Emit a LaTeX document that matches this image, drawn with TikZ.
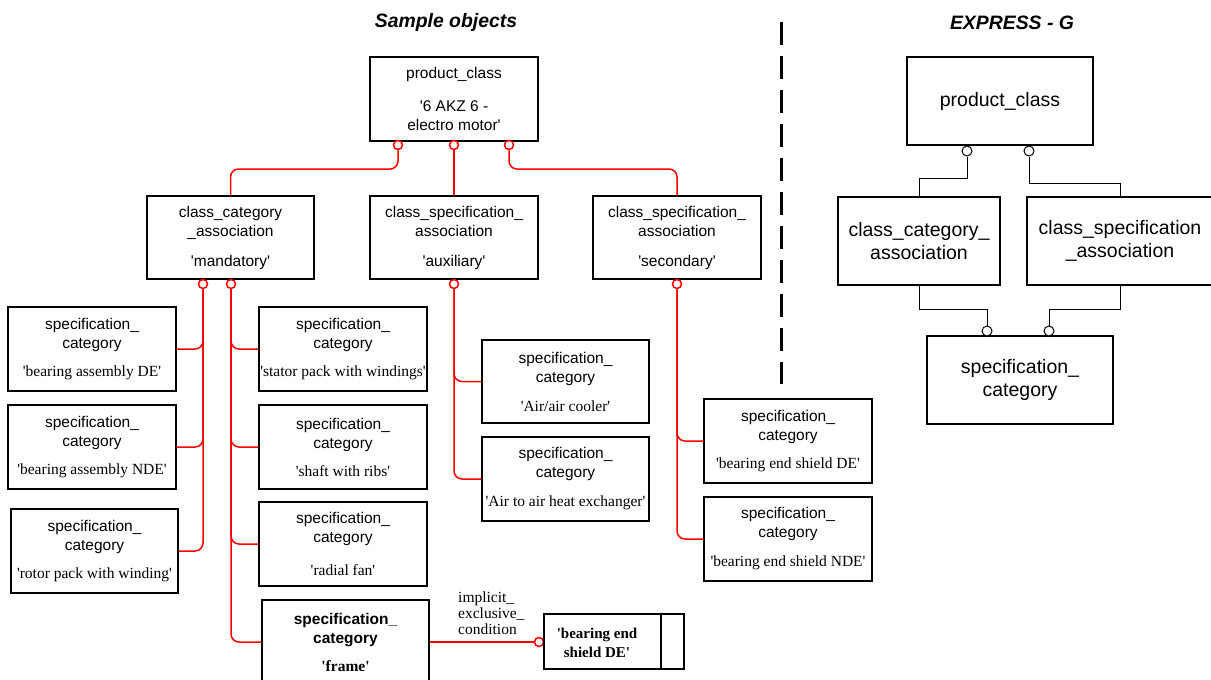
\documentclass[tikz,border=0pt]{standalone}
\usepackage{fontspec}
\newfontfamily\arial{Liberation Sans}
\newfontfamily\tnr{Liberation Serif}
\newcommand\myq{\textquotesingle}
\newcommand\qn[1]{{\tnr\fontsize{15.5}{19}\selectfont\myq #1\myq}}
\begin{document}
\begin{tikzpicture}[x=1pt,y=-1pt,
  box/.style={draw=black, line width=1.2pt, inner sep=0pt, align=center, font=\arial\fontsize{15.5}{19}\selectfont},
  sbox/.style={box, minimum width=168pt, minimum height=84pt},
  ebox/.style={draw=black, line width=1.2pt, inner sep=0pt, align=center, font=\arial\fontsize{19.5}{23}\selectfont, minimum width=186pt, minimum height=88pt},
  rcirc/.style={circle, draw=red, fill=white, line width=1.5pt, minimum size=9pt, inner sep=0pt},
  bcirc/.style={circle, draw=black, fill=white, line width=1pt, minimum size=10pt, inner sep=0pt},
  rline/.style={draw=red, line width=1.5pt, rounded corners=8pt},
  bline/.style={draw=black, line width=1pt},
  divider/.style={draw=black, line width=3pt, dash pattern=on 23pt off 11pt},
  title/.style={font=\arial\bfseries\itshape\fontsize{19.4}{23}\selectfont, inner sep=0pt}
]
\useasboundingbox (0,0) rectangle (1211,680);
\clip (0,0) rectangle (1211,680);

% titles
\node[title] (t1) at (446,22) {Sample objects};
\node[title] (t2) at (1012,23) {EXPRESS - G};

% divider
\coordinate (dtop) at (781,22);
\coordinate (dbot) at (781,384);
\draw[divider] (dtop) -- (dbot);

% ---------- sample objects ----------
\node[sbox] (pc) at (454,99) {product\_class\\[14pt]\myq 6 AKZ 6 -\\electro motor\myq};
\node[rcirc] (pcA) at (398,145) {};
\node[rcirc] (pcB) at (454,145) {};
\node[rcirc] (pcC) at (509,145) {};

\node[sbox, minimum width=167pt, minimum height=83pt] (cca) at (230.5,237.5) {class\_category\\\_association\\[11pt]\myq mandatory\myq};
\node[sbox, minimum height=83pt] (csa1) at (454,237.5) {class\_specification\_\\association\\[11pt]\myq auxiliary\myq};
\node[sbox, minimum height=83pt] (csa2) at (677,237.5) {class\_specification\_\\association\\[11pt]\myq secondary\myq};

\coordinate (hbar) at (0,169);
\draw[rline] (pcA.south) -- (pcA.south |- hbar) -- (cca.north |- hbar) -- (cca.north);
\draw[rline] (pcB.south) -- (csa1.north);
\draw[rline] (pcC.south) -- (pcC.south |- hbar) -- (csa2.north |- hbar) -- (csa2.north);

\node[rcirc] (ccaL) at (203,284) {};
\node[rcirc] (ccaR) at (231,284) {};
\node[rcirc] (csa1c) at (454,284) {};
\node[rcirc] (csa2c) at (677,284) {};

% left column
\node[sbox] (b1) at (92,349) {specification\_\\category\\[9pt]\qn{bearing assembly DE}};
\node[sbox] (b2) at (92,447) {specification\_\\category\\[9pt]\qn{bearing assembly NDE}};
\node[sbox, minimum width=167pt] (b3) at (94.5,551) {specification\_\\category\\[9pt]\qn{rotor pack with winding}};

% middle column
\node[sbox] (m1) at (343,349) {specification\_\\category\\[9pt]\qn{stator pack with windings}};
\node[sbox] (m2) at (343,447) {specification\_\\category\\[9pt]\qn{shaft with ribs}};
\node[sbox] (m3) at (343,544) {specification\_\\category\\[14pt]\qn{radial fan}};
\node[sbox, minimum width=167pt, font=\arial\bfseries\fontsize{15.5}{19}\selectfont] (m4) at (345.5,642) {specification\_\\category\\[9pt]{\tnr\bfseries\fontsize{15.5}{19}\selectfont\myq frame\myq}};

% auxiliary column
\node[sbox, minimum width=167pt, minimum height=83pt] (a1) at (565.5,381.5) {specification\_\\category\\[10pt]\qn{Air/air cooler}};
\node[sbox, minimum width=167pt] (a2) at (565.5,479) {specification\_\\category\\[10pt]\qn{Air to air heat exchanger}};

% secondary column
\node[sbox] (s1) at (788,441) {specification\_\\category\\[9pt]\qn{bearing end shield DE}};
\node[sbox] (s2) at (788,539) {specification\_\\category\\[10pt]\qn{bearing end shield NDE}};

% branches
\draw[rline] (ccaL.south) |- (b1.east);
\draw[rline] (ccaL.south) |- (b2.east);
\draw[rline] (ccaL.south) |- (b3.east);
\draw[rline] (ccaR.south) |- (m1.west);
\draw[rline] (ccaR.south) |- (m2.west);
\draw[rline] (ccaR.south) |- (m3.west);
\draw[rline] (ccaR.south) |- (m4.west);
\draw[rline] (csa1c.south) |- (a1.west);
\draw[rline] (csa1c.south) |- (a2.west);
\draw[rline] (csa2c.south) |- (s1.west);
\draw[rline] (csa2c.south) |- (s2.west);

% implicit exclusive condition
\node[rcirc] (ic) at (539,642) {};
\draw[rline] (m4.east) -- (ic.west);
\node[draw=black, line width=1.2pt, minimum width=117pt, minimum height=55pt, inner sep=0pt] (bes) at (602.5,641.5) {};
\node[draw=black, line width=1.2pt, minimum width=23pt, minimum height=55pt, inner sep=0pt] (besx) at (672.5,641.5) {};
\node[align=center, inner sep=0pt, font=\tnr\bfseries\fontsize{15}{19}\selectfont] (bestxt) at (597,642.5) {\myq bearing end\\shield DE\myq};
\node[anchor=west, align=left, inner sep=0pt, font=\tnr\fontsize{15.5}{16}\selectfont] (iec) at (458,613) {implicit\_\\exclusive\_\\condition};

% ---------- EXPRESS-G ----------
\node[ebox] (epc) at (1000,101) {product\_class};
\node[bcirc] (ec1) at (967,151) {};
\node[bcirc] (ec2) at (1029,151) {};
\node[ebox, minimum width=162pt] (ecca) at (919,241) {class\_category\_\\association};
\node[ebox] (ecsa) at (1120,241) {class\_specification\\\_association};
\node[ebox] (espc) at (1020,380) {specification\_\\category};
\node[bcirc] (ec3) at (987,331) {};
\node[bcirc] (ec4) at (1049,331) {};

\coordinate (eh1) at (0,178);
\coordinate (eh2) at (0,183);
\coordinate (eh3) at (0,309);
\draw[bline] (ec1.south) -- (ec1.south |- eh1) -- (ecca.north |- eh1) -- (ecca.north);
\draw[bline] (ec2.south) -- (ec2.south |- eh2) -- (ecsa.north |- eh2) -- (ecsa.north);
\draw[bline] (ecca.south) -- (ecca.south |- eh3) -- (ec3.north |- eh3) -- (ec3.north);
\draw[bline] (ecsa.south) -- (ecsa.south |- eh3) -- (ec4.north |- eh3) -- (ec4.north);
\end{tikzpicture}
\end{document}
